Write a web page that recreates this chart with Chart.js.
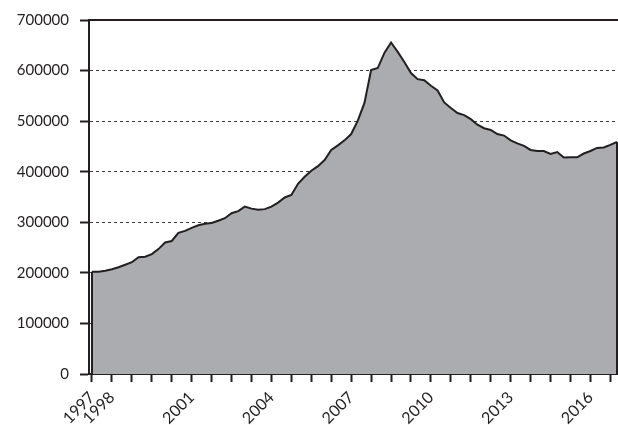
<!DOCTYPE html>
<html lang="en">
<head>
    <meta charset="UTF-8">
    <title>Quarterly values 1997-2017</title>
    <script src="https://cdn.jsdelivr.net/npm/chart.js"></script>
    <style>
        body {
            margin: 0;
            background: #ffffff;
        }
        #wrap {
            width: 618px;
            height: 425px;
            position: relative;
        }
    </style>
</head>
<body>
    <div id="wrap">
        <canvas id="chart"></canvas>
    </div>
    <script>
        // quarterly series, first point 1997 Q2
        const values = [
            202000, 202000, 204000, 207000, 211000, 216000, 221000, 231000, 232000, 237000,
            247000, 260000, 263000, 279000, 283000, 289000, 294000, 297000, 298500, 303000,
            308000, 318000, 322000, 331000, 327000, 325000, 326000, 331000, 339000, 349000,
            354000, 376000, 390000, 402000, 411000, 423000, 443000, 452000, 462000, 474500,
            501000, 536000, 601000, 605000, 635000, 655500, 637000, 617000, 595000, 583000,
            581000, 570000, 560500, 537000, 526000, 516000, 512000, 504000, 493000, 486000,
            482500, 474500, 471500, 462000, 456000, 451000, 443000, 441000, 441000, 435000,
            439000, 428000, 428500, 428500, 436000, 441000, 447000, 448000, 453000, 459000
        ];

        // quarter index -> year label shown under the axis
        const labelIndex = [0, 3, 15, 27, 39, 51, 63, 75];
        const labelYears = ['1997', '1998', '2001', '2004', '2007', '2010', '2013', '2016'];
        const yTicks = [0, 100000, 200000, 300000, 400000, 500000, 600000, 700000];

        const ink = '#231f20';
        const points = values.map((v, i) => ({ x: i, y: v }));

        // top border and the two vertical sides of the area
        const frame = {
            id: 'frame',
            afterDraw(chart) {
                const { ctx, chartArea: a, scales: { x, y } } = chart;
                const last = values.length - 1;
                const x0 = x.getPixelForValue(0);
                const x1 = x.getPixelForValue(last);
                ctx.save();
                ctx.strokeStyle = ink;
                ctx.lineWidth = 2;
                ctx.beginPath();
                ctx.moveTo(a.left - 1, a.top);
                ctx.lineTo(a.right + 2, a.top);
                ctx.moveTo(x0, y.getPixelForValue(0));
                ctx.lineTo(x0, y.getPixelForValue(values[0]));
                ctx.moveTo(x1, y.getPixelForValue(0));
                ctx.lineTo(x1, y.getPixelForValue(values[last]));
                ctx.stroke();
                ctx.restore();
            }
        };

        new Chart(document.getElementById('chart'), {
            type: 'line',
            data: {
                datasets: [{
                    data: points,
                    fill: 'origin',
                    backgroundColor: '#abacaf',
                    borderColor: ink,
                    borderWidth: 2,
                    pointRadius: 0,
                    tension: 0
                }]
            },
            options: {
                responsive: true,
                maintainAspectRatio: false,
                animation: false,
                layout: { padding: { top: 20, right: 1, left: 11, bottom: 0 } },
                plugins: {
                    legend: { display: false },
                    tooltip: { enabled: false }
                },
                scales: {
                    x: {
                        type: 'linear',
                        min: -0.45,
                        max: values.length - 1,
                        z: 1,
                        afterBuildTicks: scale => {
                            const t = [];
                            for (let i = 0; i < values.length; i += 3) t.push({ value: i });
                            scale.ticks = t;
                        },
                        afterFit: scale => { scale.height = 51; },
                        ticks: {
                            autoSkip: false,
                            minRotation: 45,
                            maxRotation: 45,
                            padding: 6,
                            color: ink,
                            font: { family: 'Lato', size: 16 },
                            callback: v => {
                                const k = labelIndex.indexOf(v);
                                return k >= 0 ? labelYears[k] : [];
                            }
                        },
                        grid: {
                            drawOnChartArea: false,
                            drawTicks: true,
                            tickLength: 8,
                            tickColor: ink,
                            tickWidth: 2
                        },
                        border: { display: true, color: ink, width: 2 }
                    },
                    y: {
                        min: 0,
                        max: 700000,
                        z: 1,
                        afterBuildTicks: scale => {
                            scale.ticks = yTicks.map(v => ({ value: v }));
                        },
                        afterFit: scale => { scale.width = 78; },
                        ticks: {
                            padding: 11,
                            color: ink,
                            font: { family: 'Lato', size: 15 },
                            callback: v => String(v)
                        },
                        grid: {
                            color: ctx => (ctx.tick && (ctx.tick.value === 0 || ctx.tick.value === 700000)) ? 'rgba(0,0,0,0)' : '#3a3a3a',
                            lineWidth: 1,
                            drawTicks: true,
                            tickLength: 9,
                            tickColor: ink,
                            tickWidth: 2,
                            tickBorderDash: []
                        },
                        border: { display: true, color: ink, width: 2, dash: [3, 3] }
                    }
                }
            },
            plugins: [frame]
        });
    </script>
</body>
</html>
